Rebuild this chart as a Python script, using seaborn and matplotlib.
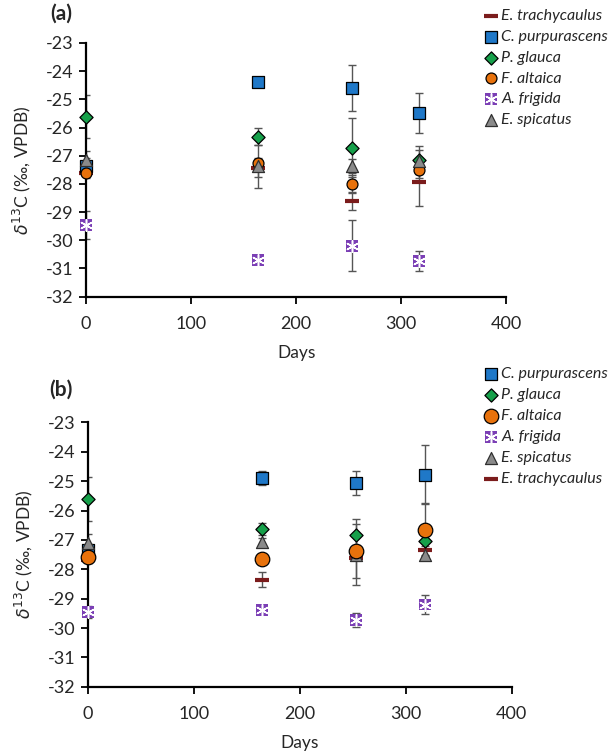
import matplotlib.pyplot as plt
import matplotlib
import seaborn as sb
import numpy as np

# sampling days for the two panels
days_a = [0, 164, 253, 317]
days_b = [0, 164, 253, 318]

# panel (a) means and error bars, d13C (permil)
trachy_a = [-27.60, -27.45, -28.62, -27.93]
trachy_a_err = [0.10, 0.30, 0.30, 0.84]
purpur_a = [-27.38, -24.39, -24.60, -25.48]
purpur_a_err = [0.30, 0.10, 0.82, 0.71]
glauca_a = [-25.61, -26.33, -26.71, -27.15]
glauca_a_err = [0.76, 0.30, 1.05, 0.50]
altaica_a = [-27.60, -27.27, -27.99, -27.49]
altaica_a_err = [0.20, 0.20, 0.30, 0.30]
frigida_a = [-29.46, -30.70, -30.19, -30.74]
frigida_a_err = [0.50, 0.10, 0.90, 0.35]
spicat_a = [-27.15, -27.38, -27.35, -27.20]
spicat_a_err = [0.30, 0.77, 0.25, 0.40]

# panel (b)
purpur_b = [-27.33, -24.89, -25.06, -24.78]
purpur_b_err = [0.20, 0.25, 0.40, 1.00]
glauca_b = [-25.61, -26.63, -26.85, -27.05]
glauca_b_err = [0.75, 0.20, 0.55, 0.30]
altaica_b = [-27.59, -27.65, -27.39, -26.65]
altaica_b_err = [0.20, 0.15, 0.20, 0.90]
frigida_b = [-29.45, -29.39, -29.73, -29.20]
frigida_b_err = [0.20, 0.15, 0.25, 0.34]
spicat_b = [-27.10, -27.07, -27.50, -27.50]
spicat_b_err = [0.30, 0.15, 1.05, 0.15]
trachy_b = [-27.70, -28.35, -27.60, -27.36]
trachy_b_err = [0.10, 0.24, 0.70, 0.15]

x_ticks = [0, 100, 200, 300, 400]
y_ticks = [-32, -31, -30, -29, -28, -27, -26, -25, -24, -23]

sb.set_style("white")
matplotlib.rcParams['font.family'] = ['Lato', 'DejaVu Sans']
matplotlib.rcParams['mathtext.fontset'] = 'dejavusans'
matplotlib.rcParams['axes.unicode_minus'] = False

# marker styles per species
styles = {
    'E. trachycaulus': dict(marker='_', color='#7B1C1C', s=90, linewidth=3),
    'C. purpurascens': dict(marker='s', color='#1F78C8', s=70, edgecolor='black', linewidth=0.9),
    'P. glauca': dict(marker='D', color='#16A04A', s=45, edgecolor='black', linewidth=0.9),
    'F. altaica': dict(marker='o', color='#E8720C', s=62, edgecolor='black', linewidth=0.9),
    'A. frigida': dict(marker='s', color='#7B3FB5', s=72, edgecolor='none', linewidth=0),
    'E. spicatus': dict(marker='^', color='#8A8A8A', s=75, edgecolor='#303030', linewidth=0.9),
}


def draw_panel(ax, days, series, order, big_circle=False):
    handles = {}
    # error bars first so markers sit on top
    for name, vals, errs in series:
        ax.errorbar(days, vals, yerr=errs, fmt='none', ecolor='#555555',
                    elinewidth=1.0, capsize=3, capthick=1.0, zorder=2)
    for name, vals, errs in series:
        st = dict(styles[name])
        if big_circle and name == 'F. altaica':
            st['s'] = 110
        sb.scatterplot(x=days, y=vals, ax=ax, zorder=3, legend=False, **st)
        h = ax.collections[-1]
        if name == 'A. frigida':
            sb.scatterplot(x=days, y=vals, ax=ax, zorder=4, legend=False,
                           marker=(6, 2, 0), s=70, color='white', linewidth=1.1)
            h = (h, ax.collections[-1])
        handles[name] = h
    ax.set_xlim(0, 400)
    ax.set_ylim(-32, -23)
    ax.set_xticks(x_ticks)
    ax.set_yticks(y_ticks)
    ax.set_xlabel('Days', fontsize=12.5, color='#262626', labelpad=9)
    ax.set_ylabel(r'$\delta^{13}$C (‰, VPDB)', fontsize=12.5, color='#262626', labelpad=9)
    for side in ['top', 'right']:
        ax.spines[side].set_visible(False)
    for side in ['left', 'bottom']:
        ax.spines[side].set_color('black')
        ax.spines[side].set_linewidth(1.6)
    ax.tick_params(direction='out', length=5, width=1.3, colors='black',
                   labelsize=13, labelcolor='#262626', left=True, bottom=True)
    ax.tick_params(axis='x', pad=9)
    ax.tick_params(axis='y', pad=4)
    for c in ax.collections:
        c.set_clip_on(False)
    return [handles[n] for n in order]


fig = plt.figure(figsize=(6.15, 7.53), dpi=100)
ax_a = fig.add_axes([0.140, 0.606, 0.683, 0.337])
ax_b = fig.add_axes([0.143, 0.088, 0.689, 0.351])

order_a = ['E. trachycaulus', 'C. purpurascens', 'P. glauca', 'F. altaica', 'A. frigida', 'E. spicatus']
series_a = [
    ('E. trachycaulus', trachy_a, trachy_a_err),
    ('C. purpurascens', purpur_a, purpur_a_err),
    ('P. glauca', glauca_a, glauca_a_err),
    ('F. altaica', altaica_a, altaica_a_err),
    ('A. frigida', frigida_a, frigida_a_err),
    ('E. spicatus', spicat_a, spicat_a_err),
]
hand_a = draw_panel(ax_a, days_a, series_a, order_a)

order_b = ['C. purpurascens', 'P. glauca', 'F. altaica', 'A. frigida', 'E. spicatus', 'E. trachycaulus']
series_b = [
    ('E. trachycaulus', trachy_b, trachy_b_err),
    ('C. purpurascens', purpur_b, purpur_b_err),
    ('E. spicatus', spicat_b, spicat_b_err),
    ('P. glauca', glauca_b, glauca_b_err),
    ('F. altaica', altaica_b, altaica_b_err),
    ('A. frigida', frigida_b, frigida_b_err),
]
hand_b = draw_panel(ax_b, days_b, series_b, order_b, big_circle=True)

leg_kw = dict(frameon=False, prop={'style': 'italic', 'size': 11.5}, handlelength=0.7,
              handletextpad=0.3, labelspacing=0.42, borderpad=0, loc='upper left',
              bbox_transform=fig.transFigure,
              handler_map={tuple: matplotlib.legend_handler.HandlerTuple(ndivide=1)})
ax_a.legend(hand_a, order_a, bbox_to_anchor=(0.776, 0.999), **leg_kw)
ax_b.legend(hand_b, order_b, bbox_to_anchor=(0.776, 0.523), **leg_kw)

fig.text(0.081, 0.982, '(a)', fontsize=15, fontweight='bold', ha='left', va='center')
fig.text(0.080, 0.482, '(b)', fontsize=15, fontweight='bold', ha='left', va='center')

fig.savefig('out.png', dpi=100)
